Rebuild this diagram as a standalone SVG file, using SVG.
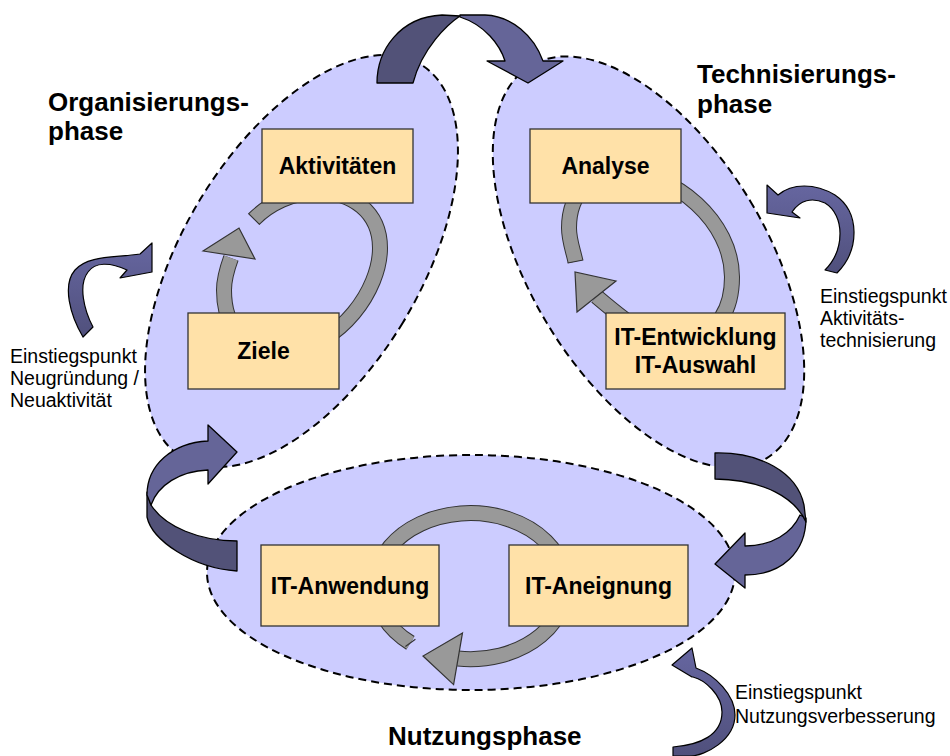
<svg xmlns="http://www.w3.org/2000/svg" width="950" height="756" viewBox="0 0 950 756">
  <defs>
    <!-- shading for the curved entry arrows: lighter on top, darker below -->
    <linearGradient id="entryShade" x1="0" y1="0" x2="0" y2="1">
      <stop offset="0" stop-color="#6666A0"/>
      <stop offset="1" stop-color="#50507C"/>
    </linearGradient>
  </defs>
  <style>
    .phase { fill: #CCCCFF; stroke: #000; stroke-width: 2; stroke-dasharray: 8 5; }
    .box { fill: #FFE1A8; stroke: #333; stroke-width: 1.3; }
    .lbl { font-family: "Liberation Sans", Arial, sans-serif; font-weight: bold; font-size: 23px; fill: #000; text-anchor: middle; }
    .title { font-family: "Liberation Sans", Arial, sans-serif; font-weight: bold; font-size: 26px; fill: #000; }
    .note { font-family: "Liberation Sans", Arial, sans-serif; font-size: 19.5px; fill: #000; }
    .ring-edge { fill: none; stroke: #333; stroke-width: 16; }
    .ring-body { fill: none; stroke: #999; stroke-width: 14; }
    .head { fill: #999; stroke: #333; stroke-width: 1.2; stroke-linejoin: miter; }
    .dark { fill: #525278; stroke: #000; stroke-width: 1.3; stroke-linejoin: round; }
    .light { fill: #656598; stroke: #000; stroke-width: 1.3; stroke-linejoin: round; }
    .entry { fill: url(#entryShade); stroke: #000; stroke-width: 1.2; stroke-linejoin: round; }
  </style>

  <!-- phase areas -->
  <g id="phase-org">
    <ellipse class="phase" cx="301.5" cy="261" rx="118.6" ry="229.9" transform="rotate(31.2 301.5 261)"/>
  </g>
  <g id="phase-tech">
    <ellipse class="phase" cx="648.5" cy="262" rx="118.6" ry="229" transform="rotate(-31 648.5 262)"/>
  </g>
  <g id="phase-use">
    <ellipse class="phase" cx="471" cy="572.5" rx="264" ry="117.5"/>
  </g>

  <!-- cycle rings inside the phases -->
  <g id="ring-org">
    <path class="ring-edge" d="M254,219 C270,203 292,193 315,192 C352,191 380,212 380,248 C380,290 340,345 290,350 C245,350 224,330 224,290 C224,279 227,269 231,258"/>
    <path class="ring-body" d="M254,219 C270,203 292,193 315,192 C352,191 380,212 380,248 C380,290 340,345 290,350 C245,350 224,330 224,290 C224,279 227,269 231,258"/>
    <line x1="248.3" y1="213.3" x2="259.7" y2="224.7" stroke="#333" stroke-width="1.2"/>
    <polygon class="head" points="203,251 239,228 255,259"/>
  </g>
  <g id="ring-tech">
    <path class="ring-edge" d="M575.5,261.5 C573,250 569,240 569,228 C569,190 595,172 620,172 C675,172 732,222 732,277 C732,305 722,330 690,340 C660,350 630,325 596.5,296.5"/>
    <path class="ring-body" d="M575.5,261.5 C573,250 569,240 569,228 C569,190 595,172 620,172 C675,172 732,222 732,277 C732,305 722,330 690,340 C660,350 630,325 596.5,296.5"/>
    <line x1="567.7" y1="263" x2="583.3" y2="260" stroke="#333" stroke-width="1.2"/>
    <polygon class="head" points="577,312 575,272 616,281"/>
  </g>
  <g id="ring-use">
    <path class="ring-edge" d="M410.4,642.9 A95.5 73 0 1 1 458,658.5"/>
    <path class="ring-body" d="M410.4,642.9 A95.5 73 0 1 1 458,658.5"/>
    <line x1="405.4" y1="646.4" x2="415.4" y2="639.3" stroke="#333" stroke-width="1.2"/>
    <polygon class="head" points="462.5,632.9 423,656 453.6,684.6"/>
  </g>

  <!-- activity boxes -->
  <g id="node-aktivitaeten">
    <rect class="box" x="262" y="129" width="151" height="74"/>
    <text class="lbl" x="337.5" y="174">Aktivitäten</text>
  </g>
  <g id="node-ziele">
    <rect class="box" x="188" y="313" width="151" height="76"/>
    <text class="lbl" x="263.5" y="359">Ziele</text>
  </g>
  <g id="node-analyse">
    <rect class="box" x="530" y="129" width="151" height="74"/>
    <text class="lbl" x="605.5" y="174">Analyse</text>
  </g>
  <g id="node-it-entwicklung">
    <rect class="box" x="606" y="313" width="179" height="76"/>
    <text class="lbl" x="695.5" y="345">IT-Entwicklung</text>
    <text class="lbl" x="695.5" y="373">IT-Auswahl</text>
  </g>
  <g id="node-it-anwendung">
    <rect class="box" x="261" y="545" width="178" height="81"/>
    <text class="lbl" x="350" y="594">IT-Anwendung</text>
  </g>
  <g id="node-it-aneignung">
    <rect class="box" x="509" y="545" width="179" height="81"/>
    <text class="lbl" x="598.5" y="594">IT-Aneignung</text>
  </g>

  <!-- transitions between phases and entry points -->
  <g id="connectors">
    <!-- Organisierung -> Technisierung -->
    <path class="dark" d="M377,83 C377,50 400,17 442,15 L460,16 C448,24 422,48 413,83 Z"/>
    <path class="light" d="M460,15 L485,15 C512,16 534,36 543,61 L563,61 L528,83 L487,61 L505,61 C500,45 485,25 460,17 Z"/>
    <!-- Technisierung -> Nutzung -->
    <path class="light" d="M800,515 C792,533 772,546 745,546 L745,533 L715,564 L745,588 L745,575 C782,575 806,552 806,518 Z"/>
    <path class="dark" d="M715,453 C760,452 797,472 804,505 L806,522 C795,498 765,480 715,479 Z"/>
    <!-- Nutzung -> Organisierung -->
    <path class="dark" d="M237,541 C200,541 165,527 151,505 L147,492 L147,517 C152,540 192,568 237,571 Z"/>
    <path class="light" d="M147,495 C147,465 172,443 208,441 L208,425 L237,452 L208,484 L208,470 C180,471 158,485 151,505 Z"/>
    <!-- entry: Neugründung -->
    <path class="entry" d="M83,337 C70,315 62,285 75,270 C88,255 115,258 140,254 L152,243 L152,272 L120,278 L127,270 C110,262 95,262 88,272 C78,285 84,310 93,327 Z"/>
    <!-- entry: Aktivitätstechnisierung -->
    <path class="entry" d="M825,270 C845,250 845,215 825,203 C812,197 800,200 792,212 L800,218 L767,213 L767,185 L778,195 C792,183 815,183 835,195 C860,212 860,250 837,273 Z"/>
    <!-- entry: Nutzungsverbesserung -->
    <path class="entry" d="M673,756 L673,747 C700,745 722,735 722,712 C722,695 705,680 693,677 L692,677 L672,665 L692,648 L696,668 C715,675 735,695 735,715 C735,740 705,756 690,756 Z"/>
  </g>

  <!-- phase titles -->
  <text class="title" x="48" y="111">Organisierungs-</text>
  <text class="title" x="48" y="140">phase</text>
  <text class="title" x="697" y="83">Technisierungs-</text>
  <text class="title" x="697" y="113">phase</text>
  <text class="title" x="388" y="745">Nutzungsphase</text>

  <!-- entry point notes -->
  <text class="note" x="10" y="363">Einstiegspunkt</text>
  <text class="note" x="10" y="385">Neugründung /</text>
  <text class="note" x="10" y="407">Neuaktivität</text>
  <text class="note" x="820" y="303">Einstiegspunkt</text>
  <text class="note" x="820" y="325">Aktivitäts-</text>
  <text class="note" x="820" y="347">technisierung</text>
  <text class="note" x="735" y="699">Einstiegspunkt</text>
  <text class="note" x="735" y="723">Nutzungsverbesserung</text>
</svg>
